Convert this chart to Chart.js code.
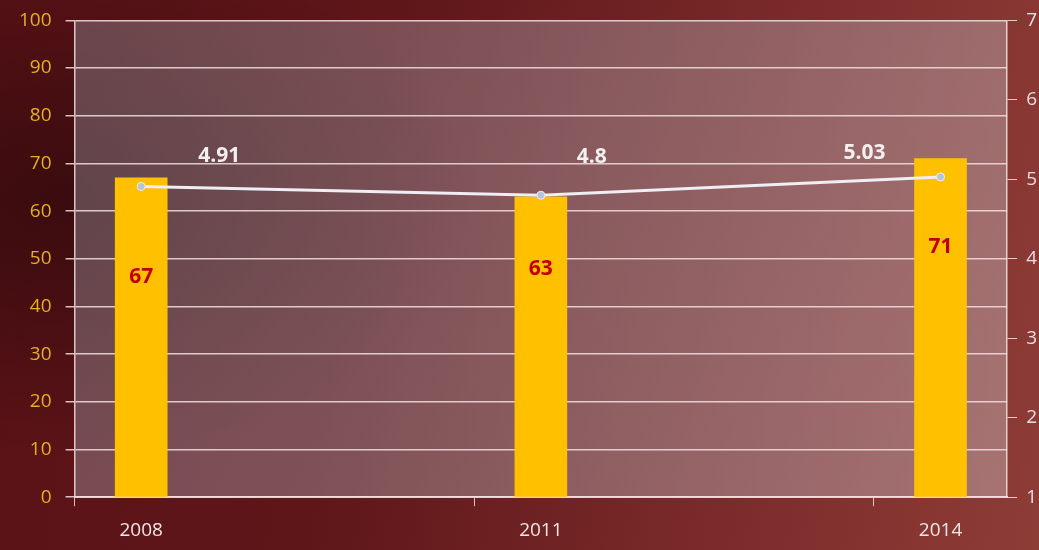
<!DOCTYPE html>
<html>
<head>
<meta charset="utf-8">
<script src="https://cdn.jsdelivr.net/npm/chart.js@4"></script>
<style>
  html, body { margin: 0; padding: 0; overflow: hidden; }
  body {
    width: 1039px; height: 550px;
    background:
      radial-gradient(ellipse 420px 260px at 60px 200px, rgba(30,5,8,0.55), rgba(30,5,8,0) 100%),
      linear-gradient(100deg, #5a1216 0%, #5e1619 35%, #7a2a2a 70%, #8e3c36 100%);
  }
  #wrap { position: absolute; left: 0; top: -5px; width: 1052px; height: 555px; }
</style>
</head>
<body>
<div id="wrap"><canvas id="chartOne"></canvas></div>
<script>
// data
const years = [2008, 2011, 2014];
const shareValues = [67, 63, 71];
const scoreValues = [4.91, 4.8, 5.03];
const leftTicks = [0, 100, 10];
const rightTicks = [1, 7, 1];

// where the red bar labels sit, as a share of the bar height
const barLabelPos = [0.69, 0.76, 0.74];
// label nudges for the line values (px)
const scoreLabelDx = [78, 51, -76];
const scoreLabelDy = [-30, -38, -24];

const fontFamily = "'Open Sans', 'DejaVu Sans', sans-serif";
const gridColor = 'rgba(245,225,225,0.85)';

const plotBackground = {
  id: 'plotBackground',
  beforeDraw(chart) {
    const { ctx, chartArea: a } = chart;
    ctx.save();
    const g = ctx.createLinearGradient(a.left, a.top, a.right, a.bottom);
    g.addColorStop(0, 'rgba(150,150,160,0.40)');
    g.addColorStop(1, 'rgba(200,185,190,0.45)');
    ctx.fillStyle = g;
    ctx.fillRect(a.left, a.top, a.right - a.left, a.bottom - a.top);
    ctx.restore();
  }
};

const valueLabels = {
  id: 'valueLabels',
  afterDatasetsDraw(chart) {
    const { ctx } = chart;
    const yScale = chart.scales.y;
    ctx.save();
    ctx.textAlign = 'center';
    ctx.textBaseline = 'middle';

    // bar values, red, inside the bar
    ctx.font = 'bold 21px ' + fontFamily;
    ctx.fillStyle = '#c00000';
    chart.getDatasetMeta(0).data.forEach((bar, i) => {
      const y = yScale.getPixelForValue(shareValues[i] * barLabelPos[i]);
      ctx.fillText(shareValues[i], bar.x, y);
    });

    // line values, white, above the points
    ctx.font = 'bold 21px ' + fontFamily;
    ctx.fillStyle = '#f4f0f0';
    chart.getDatasetMeta(1).data.forEach((pt, i) => {
      ctx.fillText(scoreValues[i], pt.x + scoreLabelDx[i], pt.y + scoreLabelDy[i]);
    });
    ctx.restore();
  }
};

function BuildChart() {
  const ctx = document.getElementById('chartOne').getContext('2d');

  const newChart = new Chart(ctx, {
    type: 'bar',
    data: {
      datasets: [{
        type: 'bar',
        data: years.map((y, i) => ({ x: y, y: shareValues[i] })),
        backgroundColor: '#ffc000',
        barThickness: 52,
        yAxisID: 'y',
        order: 2
      }, {
        type: 'line',
        data: years.map((y, i) => ({ x: y, y: scoreValues[i] })),
        borderColor: '#eeeef4',
        borderWidth: 3,
        pointRadius: 4,
        pointBackgroundColor: '#b8c4dc',
        pointBorderColor: '#eeeef4',
        pointBorderWidth: 1,
        yAxisID: 'y1',
        order: 1
      }]
    },
    options: {
      responsive: false,
      animation: false,
      layout: { padding: { top: -1, left: 5, right: 0, bottom: -5 } },
      plugins: { legend: { display: false }, tooltip: { enabled: false } },
      scales: {
        x: {
          type: 'linear',
          offset: false,
          min: years[0] - 0.5,
          max: years[years.length - 1] + 0.5,
          afterBuildTicks(scale) {
            const t = [];
            years.forEach(y => { t.push({ value: y - 0.5 }); t.push({ value: y }); });
            scale.ticks = t;
          },
          ticks: {
            color: '#f2e6e6',
            font: { family: fontFamily, size: 19 },
            padding: 13,
            autoSkip: false,
            maxRotation: 0,
            callback: v => (v % 1 === 0 ? String(v) : '')
          },
          grid: {
            offset: false,
            drawOnChartArea: false,
            tickLength: 9,
            color: c => (c.tick && c.tick.value % 1 !== 0 ? gridColor : 'rgba(0,0,0,0)')
          },
          border: { color: gridColor, width: 2 }
        },
        y: {
          position: 'left',
          min: leftTicks[0],
          max: leftTicks[1],
          ticks: {
            stepSize: leftTicks[2],
            color: '#e6b020',
            font: { family: fontFamily, size: 19 },
            padding: 14
          },
          grid: { color: gridColor, lineWidth: 1.5, tickLength: 9 },
          border: { color: gridColor, width: 1.5 }
        },
        y1: {
          position: 'right',
          min: rightTicks[0],
          max: rightTicks[1],
          ticks: {
            stepSize: rightTicks[2],
            color: '#e8dede',
            font: { family: fontFamily, size: 19 },
            padding: 9
          },
          grid: { drawOnChartArea: false, color: gridColor, tickLength: 10 },
          border: { color: gridColor, width: 1.5 }
        }
      }
    },
    plugins: [plotBackground, valueLabels]
  });
  return newChart;
}

const cv = document.getElementById('chartOne');
cv.setAttribute('width', '1046');
cv.setAttribute('height', '555');
BuildChart();
</script>
</body>
</html>
